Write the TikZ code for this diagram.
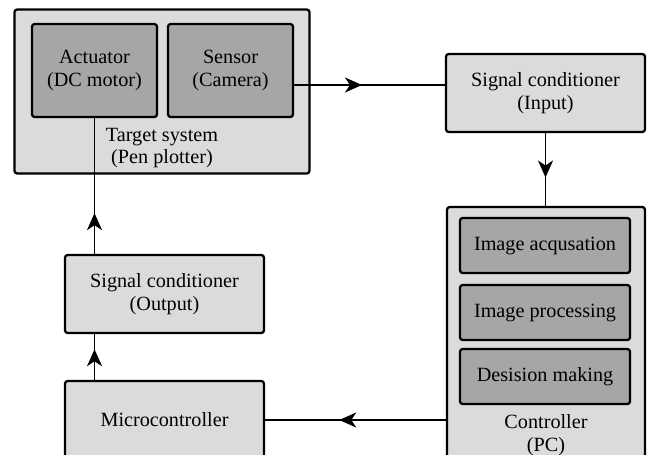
\documentclass[tikz,border=0pt]{standalone}
\usepackage{fontspec}
\setmainfont{Liberation Serif}
\usetikzlibrary{arrows.meta,decorations.markings}

\tikzset{
  outerbox/.style={draw, line width=1.3pt, rounded corners=1.5pt, fill=black!14, inner sep=0pt},
  innerbox/.style={draw, line width=1.3pt, rounded corners=1.5pt, fill=black!35, inner sep=0pt},
  txt/.style={align=center, inner sep=0pt},
  flow/.style={line width=1.1pt},
  midarrow/.style={postaction={decorate}, decoration={markings,
      mark=at position #1 with {\arrow{Stealth[length=0.34cm,width=0.3cm,inset=0.1cm]}}}},
}

\begin{document}
\begin{tikzpicture}[x=0.02cm, y=-0.02cm, font=\fontsize{11.5}{13}\selectfont]
    \useasboundingbox (0,0) rectangle (648,454);
    \clip (0,0) rectangle (648,454);

    % target system with actuator and sensor
    \node[outerbox, minimum width=5.9cm, minimum height=3.28cm] (tgt) at (162,91.5) {};
    \node[innerbox, minimum width=2.5cm, minimum height=1.86cm, txt] (act) at (94.5,70.5) {Actuator\\(DC motor)};
    \node[innerbox, minimum width=2.5cm, minimum height=1.86cm, txt] (sensor) at (230.5,70.5) {Sensor\\(Camera)};
    \node[txt] (tgtlbl) at (162,148) {Target system\\(Pen plotter)};

    % signal conditioners
    \node[outerbox, minimum width=3.98cm, minimum height=1.56cm, txt] (scin) at (545.5,93) {Signal conditioner\\(Input)};
    \node[outerbox, minimum width=3.98cm, minimum height=1.56cm, txt] (scout) at (164.5,294) {Signal conditioner\\(Output)};

    % microcontroller
    \node[outerbox, minimum width=3.98cm, minimum height=1.56cm, txt] (micro) at (164.5,420) {Microcontroller};

    % controller (PC)
    \node[outerbox, minimum width=3.96cm, minimum height=5.46cm] (ctrl) at (546,343.5) {};
    \node[innerbox, minimum width=3.4cm, minimum height=1.1cm, txt] (acq) at (545,245.5) {Image acqusation};
    \node[innerbox, minimum width=3.4cm, minimum height=1.1cm, txt] (proc) at (545,312.5) {Image processing};
    \node[innerbox, minimum width=3.4cm, minimum height=1.1cm, txt] (dec) at (545,376.5) {Desision making};
    \node[txt] (ctrllbl) at (546,435) {Controller\\(PC)};

    % signal flow
    \coordinate (camout) at ([yshift=-0.29cm]sensor.east);
    \draw[flow, midarrow=0.45] (camout) -- (camout -| scin.west);
    \draw[flow, midarrow=0.61] (scin.south) -- (scin.south |- ctrl.north);
    \draw[flow, midarrow=0.59] (micro.east -| ctrl.west) -- (micro.east);
    \draw[flow, midarrow=0.67] (micro.north -| act.south) -- (scout.south -| act.south);
    \draw[flow, midarrow=0.30] (scout.north -| act.south) -- (act.south);
\end{tikzpicture}
\end{document}
